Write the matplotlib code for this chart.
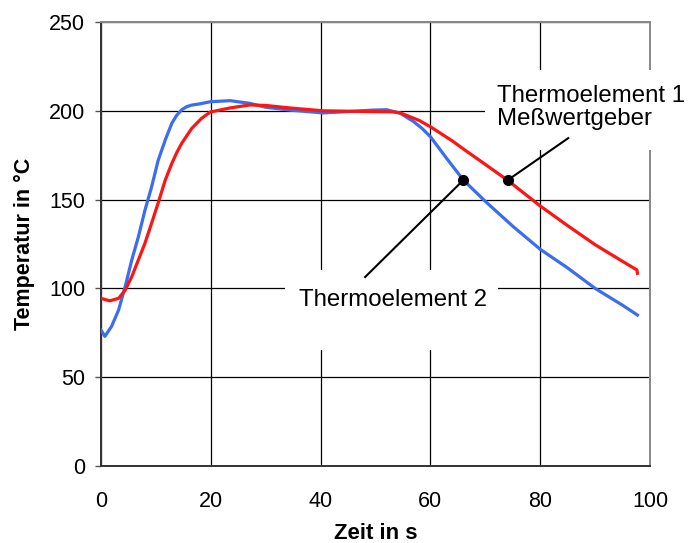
import matplotlib
matplotlib.use("Agg")
import matplotlib.pyplot as plt
from matplotlib.patches import Rectangle

plt.rcParams['font.family'] = ['Liberation Sans', 'DejaVu Sans']

# Thermoelement 2 (blue)
t2_x = [0, 0.7, 1.9, 3.2, 4.4, 5.6, 6.8, 8.0, 9.2, 10.4, 11.7, 12.9, 13.8, 14.7, 15.6,
        16.5, 18.0, 19.9, 23.5, 27.1, 30.0, 34.4, 40.4, 45.4, 49.5, 52.0, 54.5, 56.9,
        58.5, 60.0, 63.0, 66.0, 70.0, 75.0, 80.0, 85.0, 90.0, 95.0, 97.7]
t2_y = [76.5, 73.0, 78.5, 87.8, 101.0, 116.0, 129.0, 144.0, 157.0, 172.0, 183.6, 193.0,
        197.5, 200.6, 202.3, 203.2, 203.9, 205.1, 205.7, 204.2, 202.0, 200.4, 198.8,
        199.6, 200.4, 200.6, 198.6, 194.0, 190.0, 185.4, 173.0, 161.0, 149.0, 135.0,
        122.0, 111.5, 100.0, 90.5, 85.0]

# Thermoelement 1 / Messwertgeber (red)
t1_x = [0, 1.6, 3.2, 4.4, 5.6, 6.8, 8.0, 9.2, 10.4, 11.7, 12.9, 13.8, 14.7, 16.5, 18.3,
        19.9, 23.5, 27.1, 30.0, 34.4, 40.4, 48.4, 53.2, 54.5, 56.0, 58.0, 60.0, 62.0,
        64.0, 66.0, 70.0, 74.0, 80.0, 85.0, 90.0, 95.0, 97.6, 97.7]
t1_y = [94.4, 93.0, 94.4, 99.0, 106.6, 116.0, 125.4, 136.6, 148.0, 161.0, 170.4, 176.5,
        181.7, 190.0, 195.7, 199.3, 201.6, 203.3, 203.0, 201.6, 200.0, 199.6, 199.4,
        198.8, 197.0, 194.5, 191.0, 187.0, 183.0, 178.5, 169.8, 161.0, 146.4, 135.3,
        124.6, 115.2, 110.4, 108.5]

x_ticks = [0, 20, 40, 60, 80, 100]
y_ticks = [0, 50, 100, 150, 200, 250]
x_label = "Zeit in s"
y_label = "Temperatur in °C"
label_t1 = ["Thermoelement 1", "Meßwertgeber"]
label_t2 = "Thermoelement 2"

fig = plt.figure(figsize=(6.9, 5.43), dpi=100)
ax = fig.add_axes([0.1464, 0.1418, 0.7957, 0.8177])
ax.set_xlim(0, 100)
ax.set_ylim(0, 250)
ax.set_xticks(x_ticks)
ax.set_yticks(y_ticks)
ax.tick_params(axis='x', length=0, pad=18, labelsize=15.5)
ax.tick_params(axis='y', length=4, width=1, color='#555555', pad=7.5, labelsize=15.5)
ax.grid(True, color='black', linewidth=0.9)
ax.set_axisbelow(True)
for s in ['left', 'bottom']:
    ax.spines[s].set_color('#333333')
    ax.spines[s].set_linewidth(1.4)
for s in ['top', 'right']:
    ax.spines[s].set_color('#888888')
    ax.spines[s].set_linewidth(1.4)

ax.plot(t2_x, t2_y, color='#3a6df0', linewidth=2.3, zorder=3, solid_joinstyle='round')
ax.plot(t1_x, t1_y, color='#ff1414', linewidth=2.3, zorder=3, solid_joinstyle='round')

# white label boxes interrupting grid
ax.add_patch(Rectangle((69.9, 177.9), 40, 45.1, facecolor='white', edgecolor='none',
                       clip_on=False, zorder=2.8))
ax.add_patch(Rectangle((33.5, 65.3), 38.8, 45.1, facecolor='white', edgecolor='none',
                       clip_on=False, zorder=2.8))

# annotation leaders
ax.plot([74.1, 85.1], [161, 184.6], color='black', linewidth=1.5, zorder=4, clip_on=False)
ax.plot([66.0, 48.1], [161, 106.4], color='black', linewidth=1.5, zorder=4, clip_on=False)
ax.plot([74.1, 66.0], [161, 161], linestyle='none', marker='o', markersize=7,
        color='black', zorder=5)

ax.text(72.06, 205.1, label_t1[0], fontsize=17.3, ha='left', va='baseline', zorder=6,
        clip_on=False)
ax.text(72.06, 192.0, label_t1[1], fontsize=17.3, ha='left', va='baseline', zorder=6,
        clip_on=False)
ax.text(53.2, 90.1, label_t2, fontsize=17.3, ha='center', va='baseline', zorder=6)

ax.set_xlabel(x_label, fontsize=16, fontweight='bold', va='center')
ax.xaxis.set_label_coords(0.5, -0.153)
ax.set_ylabel(y_label, fontsize=15.5, fontweight='bold', va='center')
ax.yaxis.set_label_coords(-0.140, 0.5)

fig.savefig("out.png", dpi=100)
